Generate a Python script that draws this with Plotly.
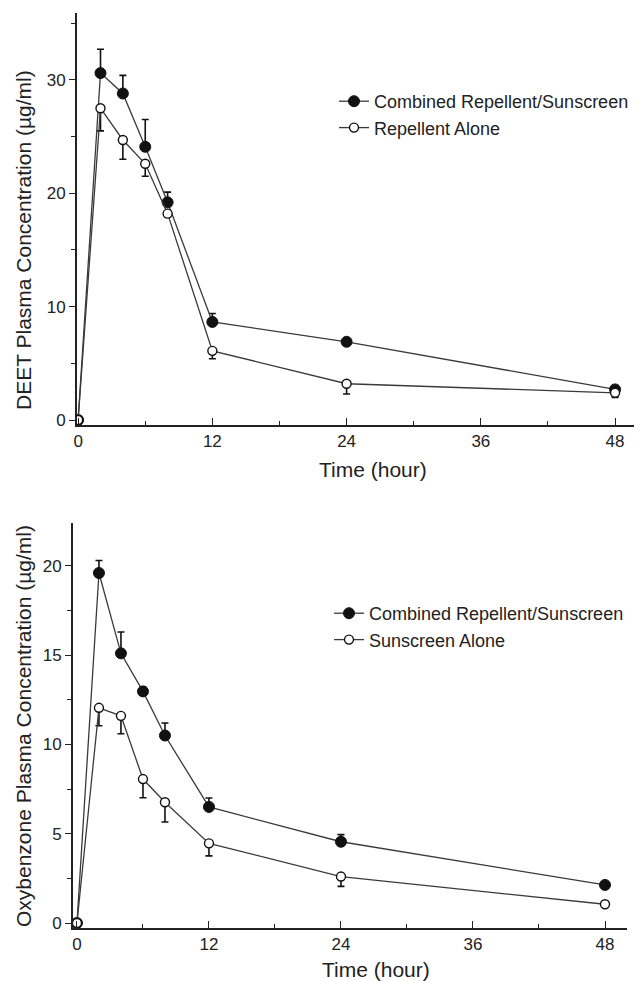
import plotly.graph_objects as go

# ---- data ----
time_h = [0, 2, 4, 6, 8, 12, 24, 48]

deet_combined = [0, 30.6, 28.8, 24.1, 19.2, 8.65, 6.9, 2.7]
deet_combined_se = [0, 2.1, 1.6, 2.4, 0.9, 0.75, 0.3, 0.35]
deet_alone = [0, 27.5, 24.7, 22.6, 18.2, 6.1, 3.2, 2.4]
deet_alone_se = [0, 2.0, 1.7, 1.1, 0.3, 0.7, 0.9, 0.4]

oxy_combined = [0, 19.6, 15.1, 12.97, 10.5, 6.5, 4.55, 2.13]
oxy_combined_se = [0, 0.7, 1.2, 0.25, 0.7, 0.5, 0.4, 0.1]
oxy_alone = [0, 12.05, 11.6, 8.06, 6.76, 4.46, 2.6, 1.05]
oxy_alone_se = [0, 1.0, 1.0, 1.05, 1.1, 0.7, 0.55, 0.05]

x_ticks = [0, 12, 24, 36, 48]
x_minor = [6, 18, 30, 42]
y1_ticks = [0, 10, 20, 30]
y1_minor = [5, 15, 25, 35]
y2_ticks = [0, 5, 10, 15, 20]
y2_minor = [2.5, 7.5, 12.5, 17.5]

name_combined = "Combined Repellent/Sunscreen"
name_rep = "Repellent Alone"
name_sun = "Sunscreen Alone"

# the page body has an 8px default margin; size the figure to fit the window
PAGE_OFF = 8
W, H = 642 - PAGE_OFF, 981 - PAGE_OFF
FONT = "Liberation Sans, Arial, Helvetica, sans-serif"
INK = "#222222"
LINE = "#3a3a3a"


def px_x(p):
    return (p - PAGE_OFF) / W


def px_y(p):
    return 1 - (p - PAGE_OFF) / H


fig = go.Figure()


def add_pair(y1, e1, y2, e2, name2, xa, ya, leg):
    fig.add_trace(go.Scatter(
        x=time_h, y=y1, name=name_combined, mode="lines+markers",
        xaxis=xa, yaxis=ya, legend=leg,
        line=dict(color=LINE, width=1.3),
        marker=dict(symbol="circle", size=11, color="#111111",
                    line=dict(color="#111111", width=1)),
        error_y=dict(type="data", symmetric=False, array=e1,
                     arrayminus=[0] * len(e1), color="#111111",
                     thickness=1.6, width=3.5),
    ))
    fig.add_trace(go.Scatter(
        x=time_h, y=y2, name=name2, mode="lines+markers",
        xaxis=xa, yaxis=ya, legend=leg,
        line=dict(color=LINE, width=1.3),
        marker=dict(symbol="circle", size=9, color="white",
                    line=dict(color="#111111", width=1.4)),
        error_y=dict(type="data", symmetric=False, array=[0] * len(e2),
                     arrayminus=e2, color="#111111",
                     thickness=1.6, width=3.5),
    ))


add_pair(deet_combined, deet_combined_se, deet_alone, deet_alone_se,
         name_rep, "x", "y", "legend")
add_pair(oxy_combined, oxy_combined_se, oxy_alone, oxy_alone_se,
         name_sun, "x2", "y2", "legend2")

xcommon = dict(
    tickmode="array", tickvals=x_ticks,
    ticks="inside", ticklen=7, tickwidth=1.2, tickcolor=INK,
    minor=dict(tickmode="array", tickvals=x_minor, ticks="inside",
               ticklen=4, tickwidth=1.2, tickcolor=INK),
    showline=True, linecolor=INK, linewidth=2,
    showgrid=False, zeroline=False, automargin=False,
    tickfont=dict(family=FONT, size=17, color=INK),
)
ycommon = dict(
    tickmode="array",
    ticks="outside", ticklen=6, tickwidth=1.2, tickcolor=INK,
    showline=True, linecolor=INK, linewidth=2,
    showgrid=False, zeroline=False, automargin=False,
    tickfont=dict(family=FONT, size=17, color=INK),
)

legend_common = dict(
    font=dict(family=FONT, size=18, color=INK),
    bgcolor="rgba(0,0,0,0)", borderwidth=0,
    xanchor="left", yanchor="top", itemwidth=30,
    tracegroupgap=0,
)

title_font = dict(family=FONT, size=21, color=INK)

fig.update_layout(
    width=W, height=H,
    margin=dict(l=0, r=0, t=0, b=0, autoexpand=False),
    paper_bgcolor="white", plot_bgcolor="white",
    showlegend=True,
    xaxis=dict(domain=[px_x(77), px_x(638)], range=[-0.1, 50.05],
               anchor="y", **xcommon),
    yaxis=dict(domain=[px_y(425), px_y(13)], range=[-0.44, 35.9],
               anchor="x", tickvals=y1_ticks,
               minor=dict(tickmode="array", tickvals=y1_minor,
                          ticks="outside", ticklen=4, tickwidth=1.2,
                          tickcolor=INK),
               **ycommon),
    xaxis2=dict(domain=[px_x(73), px_x(627)], range=[-0.36, 50.0],
                anchor="y2", **xcommon),
    yaxis2=dict(domain=[px_y(928), px_y(523)], range=[-0.28, 22.4],
                anchor="x2", tickvals=y2_ticks,
                minor=dict(tickmode="array", tickvals=y2_minor,
                           ticks="outside", ticklen=4, tickwidth=1.2,
                           tickcolor=INK),
                **ycommon),
    legend=dict(x=px_x(334), y=px_y(83), **legend_common),
    legend2=dict(x=px_x(329), y=px_y(595), **legend_common),
    annotations=[
        dict(text="Time (hour)", x=px_x(373), y=px_y(470), xref="paper",
             yref="paper", showarrow=False, xanchor="center",
             yanchor="middle", font=title_font),
        dict(text="Time (hour)", x=px_x(376), y=px_y(969), xref="paper",
             yref="paper", showarrow=False, xanchor="center",
             yanchor="middle", font=title_font),
        dict(text="DEET Plasma Concentration (µg/ml)", x=px_x(23),
             y=px_y(240), xref="paper", yref="paper", showarrow=False,
             xanchor="center", yanchor="middle",
             textangle=-90, font=title_font),
        dict(text="Oxybenzone Plasma Concentration (µg/ml)", x=px_x(23),
             y=px_y(726), xref="paper", yref="paper", showarrow=False,
             xanchor="center", yanchor="middle",
             textangle=-90, font=title_font),
    ],
)

fig.write_html("out.html")
